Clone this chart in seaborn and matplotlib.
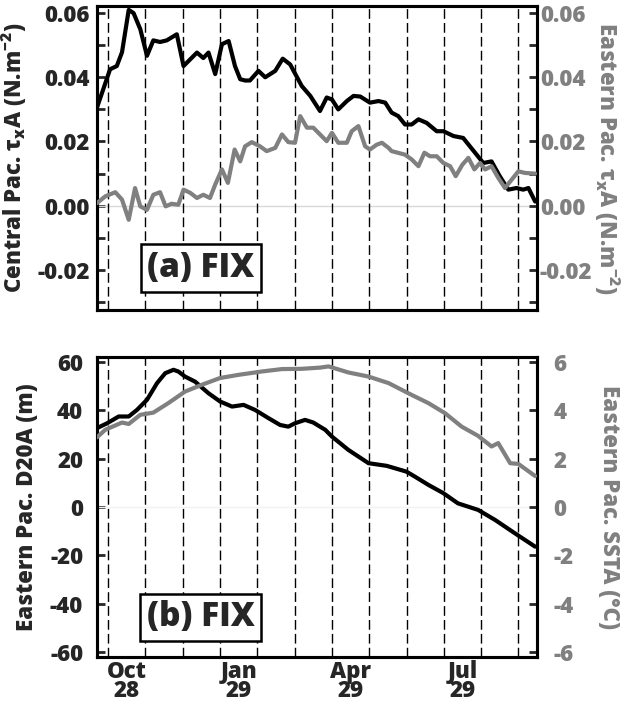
import numpy as np
import matplotlib
matplotlib.use("Agg")
import matplotlib.pyplot as plt
import seaborn as sns

# time axis in months after 1 Oct 1928
t_cen_tau = [-0.30, 0.05, 0.23, 0.37, 0.55, 0.68, 0.86, 1.04, 1.21, 1.39, 1.57, 1.84,
             2.02, 2.20, 2.38, 2.55, 2.69, 2.87, 3.05, 3.23, 3.40, 3.54, 3.67, 3.80,
             4.03, 4.21, 4.48, 4.68, 4.88, 5.19, 5.42, 5.68, 5.86, 6.00, 6.17, 6.40,
             6.58, 6.76, 7.02, 7.25, 7.43, 7.60, 7.78, 7.96, 8.14, 8.32, 8.54, 8.81,
             8.99, 9.26, 9.52, 9.70, 9.88, 10.06, 10.28, 10.50, 10.73, 10.95, 11.13,
             11.27, 11.45]
cen_tau = [0.0306, 0.0425, 0.0435, 0.0478, 0.0610, 0.0600, 0.0550, 0.0467, 0.0515,
           0.0510, 0.0515, 0.0534, 0.0435, 0.0456, 0.0477, 0.0460, 0.0477, 0.0410,
           0.0503, 0.0513, 0.0435, 0.0394, 0.0390, 0.0390, 0.0420, 0.0400, 0.0420,
           0.0458, 0.0440, 0.0373, 0.0342, 0.0295, 0.0337, 0.0331, 0.0300, 0.0326,
           0.0342, 0.0340, 0.0321, 0.0326, 0.0321, 0.0290, 0.0279, 0.0253, 0.0253,
           0.0269, 0.0258, 0.0232, 0.0232, 0.0217, 0.0211, 0.0185, 0.0159, 0.0133,
           0.0138, 0.0092, 0.0050, 0.0055, 0.0050, 0.0055, 0.0013]

t_east_tau = [-0.30, -0.08, 0.19, 0.37, 0.55, 0.72, 0.86, 1.04, 1.21, 1.39, 1.54, 1.70,
              1.88, 2.02, 2.20, 2.38, 2.55, 2.73, 2.87, 3.05, 3.21, 3.39, 3.54, 3.67,
              3.85, 4.07, 4.25, 4.48, 4.66, 4.83, 5.01, 5.15, 5.33, 5.50, 5.68, 5.86,
              6.00, 6.17, 6.40, 6.53, 6.71, 6.89, 7.02, 7.20, 7.34, 7.52, 7.60, 7.96,
              8.14, 8.32, 8.48, 8.63, 8.81, 8.99, 9.17, 9.32, 9.50, 9.66, 9.82, 9.97,
              10.11, 10.28, 10.46, 10.64, 10.82, 11.00, 11.18, 11.45]
east_tau = [0.0008, 0.0029, 0.0042, 0.0019, -0.0044, 0.0055, -0.0002, -0.0013, 0.0034,
            0.0042, -0.0002, 0.0006, 0.0003, 0.0050, 0.0040, 0.0024, 0.0034, 0.0024,
            0.0066, 0.0113, 0.0071, 0.0175, 0.0138, 0.0185, 0.0198, 0.0185, 0.0170,
            0.0180, 0.0222, 0.0198, 0.0196, 0.0279, 0.0243, 0.0243, 0.0222, 0.0201,
            0.0227, 0.0196, 0.0196, 0.0232, 0.0248, 0.0185, 0.0175, 0.0190, 0.0196,
            0.0180, 0.0170, 0.0159, 0.0144, 0.0123, 0.0165, 0.0154, 0.0154, 0.0133,
            0.0123, 0.0092, 0.0128, 0.0149, 0.0113, 0.0133, 0.0113, 0.0123, 0.0087,
            0.0055, 0.0081, 0.0107, 0.0102, 0.0100]

t_d20 = [-0.30, -0.03, 0.28, 0.55, 0.77, 1.04, 1.31, 1.53, 1.75, 1.88, 2.06, 2.33,
         2.69, 3.00, 3.32, 3.63, 3.94, 4.30, 4.61, 4.83, 5.01, 5.28, 5.50, 5.68, 5.82,
         6.00, 6.44, 6.98, 7.47, 8.00, 8.23, 8.59, 8.99, 9.38, 9.92, 10.38, 10.91, 11.45]
d20 = [32.6, 34.6, 37.4, 37.4, 40.1, 44.3, 51.2, 55.3, 56.7, 56.0, 53.9, 51.8, 47.0,
       43.6, 41.5, 42.2, 40.1, 36.7, 33.9, 33.2, 34.6, 36.0, 34.9, 33.2, 31.9, 29.1,
       23.6, 18.1, 17.0, 14.6, 12.5, 9.1, 5.7, 1.5, -1.2, -5.4, -10.9, -16.4]

t_ssta = [-0.30, -0.08, 0.37, 0.55, 0.86, 1.21, 1.61, 2.06, 2.51, 3.00, 3.49, 4.12,
          4.66, 5.19, 5.68, 5.91, 6.44, 6.98, 7.52, 8.05, 8.59, 9.03, 9.48, 9.92,
          10.28, 10.46, 10.78, 11.00, 11.45]
ssta = [2.88, 3.19, 3.49, 3.43, 3.81, 3.90, 4.29, 4.77, 5.05, 5.33, 5.46, 5.60, 5.70,
        5.71, 5.76, 5.81, 5.56, 5.39, 5.12, 4.70, 4.29, 3.88, 3.32, 2.94, 2.50, 2.64,
        1.81, 1.78, 1.28]

month_starts = list(range(12))
tick_pos = [0.5, 3.5, 6.5, 9.5]
tick_labels = ["Oct\n28", "Jan\n29", "Apr\n29", "Jul\n29"]

sns.set_style("ticks")
plt.rcParams['font.family'] = ['Open Sans', 'DejaVu Sans']
plt.rcParams['font.weight'] = 'heavy'
plt.rcParams['axes.labelweight'] = 'heavy'
plt.rcParams['axes.unicode_minus'] = False
plt.rcParams['mathtext.fontset'] = 'custom'
plt.rcParams['mathtext.rm'] = 'Open Sans:heavy'
plt.rcParams['mathtext.bf'] = 'Open Sans:heavy'
plt.rcParams['mathtext.default'] = 'bf'

GRAY = '#808080'
FS = 16

fig = plt.figure(figsize=(6.28, 7.02), dpi=100)
ax1 = fig.add_axes([0.1545, 0.5584, 0.7006, 0.433])
ax2 = fig.add_axes([0.1545, 0.0641, 0.7006, 0.4274])


def style_axes(ax, twin, lpad, rpad):
    for a in (ax, twin):
        for s in a.spines.values():
            s.set_linewidth(2.2)
            s.set_color('black')
    ax.set_xlim(-0.3, 11.5)
    for m in month_starts:
        ax.axvline(m, color='black', lw=1.0, dashes=(7, 3), zorder=1)
    ax.tick_params(axis='y', direction='in', length=6, width=2, labelsize=FS,
                   pad=lpad, right=False)
    twin.tick_params(axis='y', direction='in', length=6, width=2, labelsize=FS,
                     labelcolor=GRAY, pad=rpad, left=False)
    ax.tick_params(axis='x', length=0, labelsize=FS, pad=2)


# (a) wind stress
tw1 = ax1.twinx()
ax1.axhline(0, color='#d8d8d8', lw=1.0, zorder=1)
sns.lineplot(x=t_cen_tau, y=cen_tau, ax=ax1, color='black', lw=3.0, zorder=3)
sns.lineplot(x=t_east_tau, y=east_tau, ax=tw1, color=GRAY, lw=3.0, zorder=3)
for a in (ax1, tw1):
    a.set_ylim(-0.0325, 0.0622)
    a.set_yticks(np.arange(-0.03, 0.061, 0.01))
    a.set_yticklabels(['' if round(v * 100) % 2 else f'{v:.2f}'
                       for v in np.arange(-0.03, 0.061, 0.01)])
style_axes(ax1, tw1, 5, 2)
ax1.set_xticks([])
ax1.set_ylabel(r'Central Pac. τ$_{x}$A (N.m$^{-2}$)', fontsize=FS, labelpad=6)
tw1.set_ylabel(r'Eastern Pac. τ$_{x}$A (N.m$^{-2}$)', fontsize=FS, color=GRAY,
               rotation=270, labelpad=21)
ax1.text(0.236, 0.138, '(a) FIX', transform=ax1.transAxes, ha='center', va='center',
         fontsize=24, zorder=5,
         bbox=dict(boxstyle='square,pad=0.2', fc='white', ec='black', lw=1.8))

# (b) thermocline depth and SST
tw2 = ax2.twinx()
ax2.axhline(0, color='#f2f2f2', lw=1.0, zorder=1)
sns.lineplot(x=t_d20, y=d20, ax=ax2, color='black', lw=3.0, zorder=3)
sns.lineplot(x=t_ssta, y=ssta, ax=tw2, color=GRAY, lw=3.0, zorder=3)
ax2.set_ylim(-62, 62)
ax2.set_yticks(np.arange(-60, 61, 20))
tw2.set_ylim(-6.2, 6.2)
tw2.set_yticks(np.arange(-6, 7, 2))
style_axes(ax2, tw2, 10, 12)
ax2.set_xticks(tick_pos)
ax2.set_xticklabels(tick_labels, linespacing=0.75)
ax2.set_ylabel('Eastern Pac. D20A (m)', fontsize=FS, labelpad=8)
tw2.set_ylabel('Eastern Pac. SSTA (°C)', fontsize=FS, color=GRAY,
               rotation=270, labelpad=34)
ax2.text(0.236, 0.132, '(b) FIX', transform=ax2.transAxes, ha='center', va='center',
         fontsize=24, zorder=5,
         bbox=dict(boxstyle='square,pad=0.2', fc='white', ec='black', lw=1.8))

fig.savefig('out.png', dpi=100)
